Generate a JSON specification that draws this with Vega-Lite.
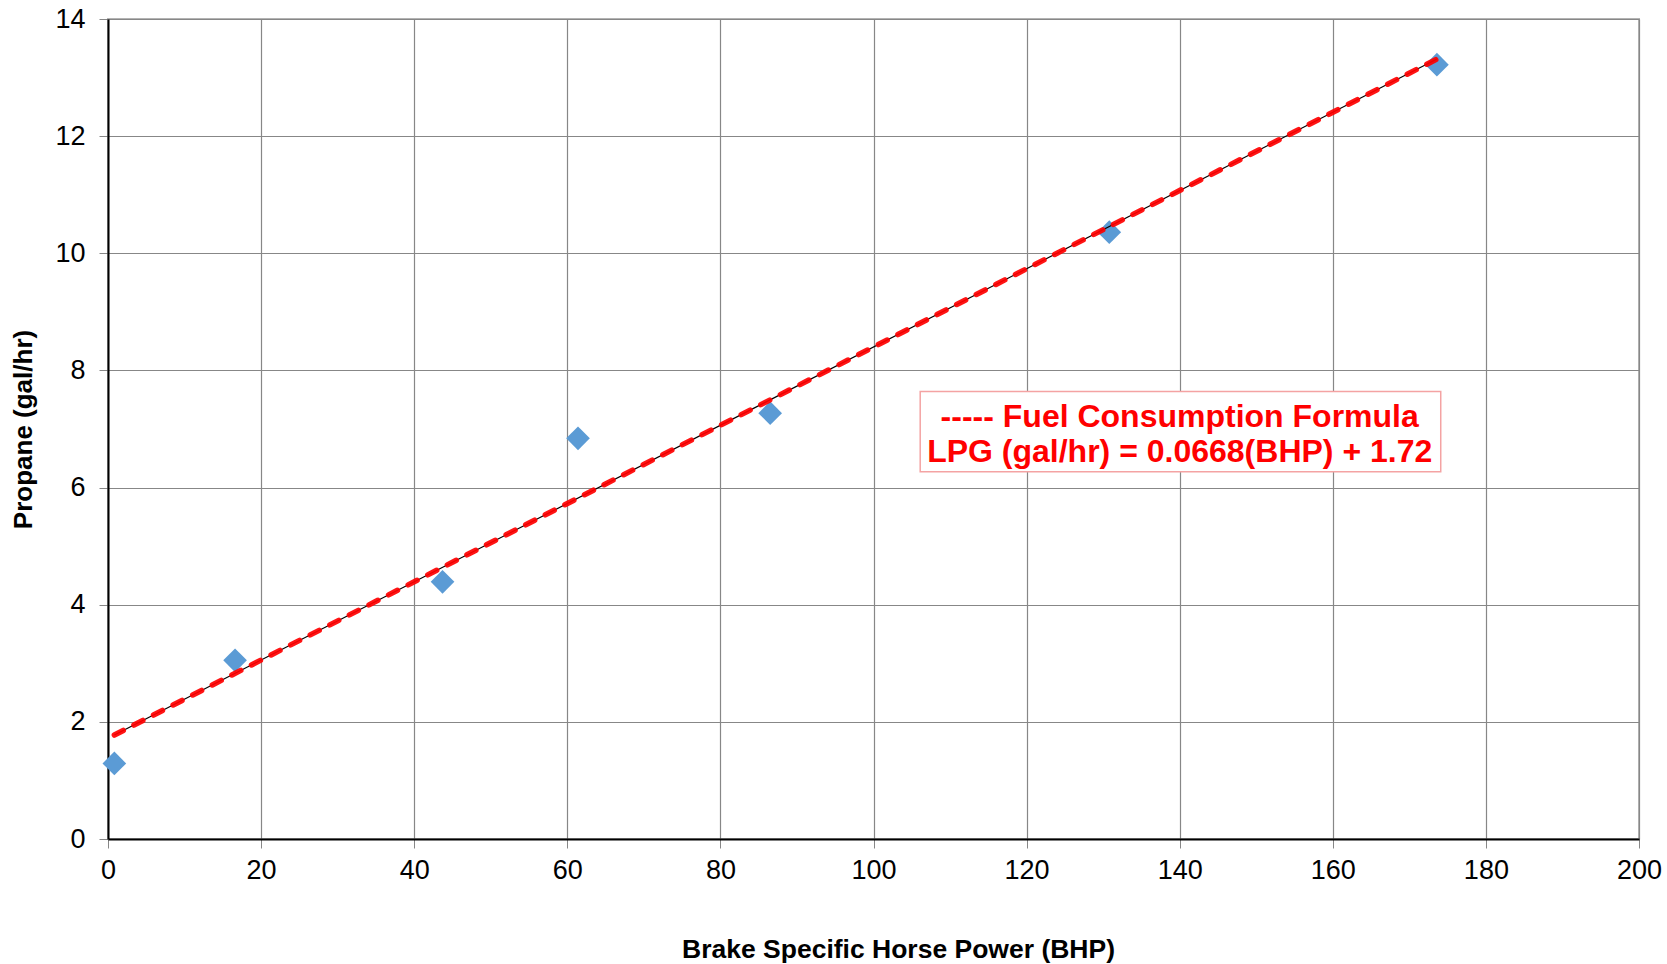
{
  "$schema": "https://vega.github.io/schema/vega-lite/v6.json",
  "width": 1531,
  "height": 820,
  "autosize": "none",
  "padding": {"left": 108, "top": 19, "right": 28, "bottom": 125},
  "background": "white",
  "config": {
    "font": "Liberation Sans",
    "view": {"stroke": "#b3b3b3", "strokeWidth": 2},
    "axis": {
      "labelFont": "Liberation Sans",
      "titleFont": "Liberation Sans",
      "labelFontSize": 27,
      "titleFontSize": 26,
      "titleFontWeight": "bold",
      "labelColor": "#000000",
      "titleColor": "#000000",
      "gridColor": "#878787",
      "gridWidth": 1.2,
      "gridOpacity": 1,
      "tickColor": "#878787",
      "tickSize": 9,
      "domainColor": "#000000",
      "domainWidth": 2
    }
  },
  "datasets": {
    "points": [
      {"bhp": 0.83, "gal": 1.29},
      {"bhp": 16.6, "gal": 3.05},
      {"bhp": 43.7, "gal": 4.39},
      {"bhp": 61.4, "gal": 6.84},
      {"bhp": 86.5, "gal": 7.27},
      {"bhp": 130.8, "gal": 10.36},
      {"bhp": 173.6, "gal": 13.22}
    ],
    "trend": [
      {"bhp": 0.83, "gal": 1.775},
      {"bhp": 173.6, "gal": 13.316}
    ],
    "box": [
      {"x1": 106.1, "x2": 174.1, "y1": 6.27, "y2": 7.64}
    ],
    "labels": [
      {"bhp": 140.0, "gal": 7.2, "text": "----- Fuel Consumption Formula"},
      {"bhp": 140.0, "gal": 6.6, "text": "LPG (gal/hr) = 0.0668(BHP) + 1.72"}
    ]
  },
  "layer": [
    {
      "data": {"name": "points"},
      "mark": {"type": "point", "shape": "diamond", "filled": true, "size": 560, "color": "#5b9bd5", "opacity": 1},
      "encoding": {
        "x": {
          "field": "bhp", "type": "quantitative",
          "scale": {"domain": [0, 200], "nice": false, "zero": true},
          "axis": {"values": [0, 20, 40, 60, 80, 100, 120, 140, 160, 180, 200], "format": "d", "title": "Brake Specific Horse Power (BHP)", "titleFontSize": 26.5, "titleX": 790, "labelPadding": 9, "titlePadding": 53, "labelFlush": false}
        },
        "y": {
          "field": "gal", "type": "quantitative",
          "scale": {"domain": [0, 14], "nice": false},
          "axis": {"values": [0, 2, 4, 6, 8, 10, 12, 14], "format": "d", "title": "Propane (gal/hr)", "labelPadding": 14, "titlePadding": 18, "labelFlush": false}
        }
      }
    },
    {
      "data": {"name": "trend"},
      "mark": {"type": "line", "color": "#000000", "strokeWidth": 1.2},
      "encoding": {
        "x": {"field": "bhp", "type": "quantitative"},
        "y": {"field": "gal", "type": "quantitative"}
      }
    },
    {
      "data": {"name": "trend"},
      "mark": {"type": "line", "color": "#ff0000", "strokeWidth": 5.5, "strokeDash": [10, 12], "strokeCap": "round", "opacity": 0.92},
      "encoding": {
        "x": {"field": "bhp", "type": "quantitative"},
        "y": {"field": "gal", "type": "quantitative"}
      }
    },
    {
      "data": {"name": "box"},
      "mark": {"type": "rect", "fill": "#ffffff", "stroke": "#f4a3a3", "strokeWidth": 1.5},
      "encoding": {
        "x": {"field": "x1", "type": "quantitative"},
        "x2": {"field": "x2"},
        "y": {"field": "y1", "type": "quantitative"},
        "y2": {"field": "y2"}
      }
    },
    {
      "data": {"name": "labels"},
      "mark": {"type": "text", "color": "#ff0000", "fontSize": 32, "fontWeight": "bold", "font": "Liberation Sans", "align": "center", "baseline": "middle"},
      "encoding": {
        "x": {"field": "bhp", "type": "quantitative"},
        "y": {"field": "gal", "type": "quantitative"},
        "text": {"field": "text", "type": "nominal"}
      }
    }
  ]
}
